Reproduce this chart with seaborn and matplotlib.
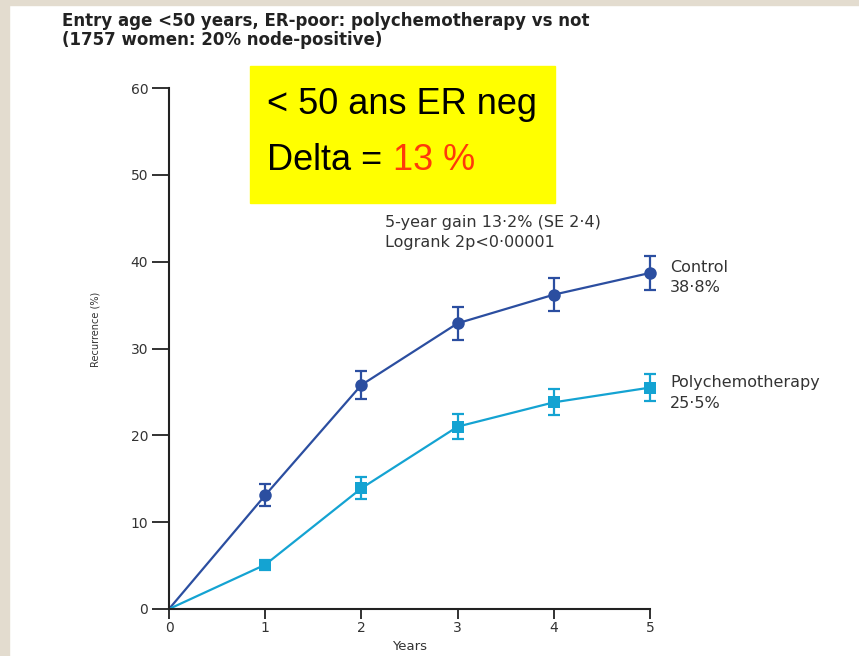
import numpy as np
import pandas as pd
import matplotlib
matplotlib.use("Agg")
import matplotlib.pyplot as plt
import seaborn as sns
from matplotlib.patches import Rectangle

# ---- data ----
years = [0, 1, 2, 3, 4, 5]
control = [0, 13.1, 25.8, 32.9, 36.2, 38.7]
control_err = [1.25, 1.6, 1.9, 1.9, 2.0]
poly = [0, 5.1, 13.9, 21.0, 23.8, 25.5]
poly_err = [0.6, 1.25, 1.45, 1.5, 1.55]
yticks = [0, 10, 20, 30, 40, 50, 60]
xticks = [0, 1, 2, 3, 4, 5]

c_ctrl = "#2b4ea0"
c_poly = "#14a3d2"

sns.set_theme(style="white")
plt.rcParams['font.family'] = ['DejaVu Sans']

W, H = 859, 656
fig = plt.figure(figsize=(W / 100, H / 100), dpi=100)
fig.patch.set_facecolor("white")

def fx(x):
    return x / W

def fy(y):
    return 1 - y / H

# beige frame strips
fig.patches.append(Rectangle((0, 0), fx(9), 1, transform=fig.transFigure,
                             color="#e3dccf", zorder=0))
fig.patches.append(Rectangle((0, fy(5)), 1, fy(0) - fy(5), transform=fig.transFigure,
                             color="#e3dccf", zorder=0))

ax = fig.add_axes([fx(169), fy(609), fx(650) - fx(169), fy(88) - fy(609)])
ax.set_facecolor("none")

df_c = pd.DataFrame({"Years": years, "Recurrence": control})
df_p = pd.DataFrame({"Years": years, "Recurrence": poly})

sns.lineplot(data=df_c, x="Years", y="Recurrence", ax=ax, color=c_ctrl, lw=1.6,
             marker="o", markersize=9, markevery=[1, 2, 3, 4, 5], clip_on=False,
             markeredgewidth=0)
sns.lineplot(data=df_p, x="Years", y="Recurrence", ax=ax, color=c_poly, lw=1.6,
             marker="s", markersize=8.5, markevery=[1, 2, 3, 4, 5], clip_on=False,
             markeredgewidth=0)
ax.errorbar(years[1:], control[1:], yerr=control_err, fmt="none", ecolor=c_ctrl,
            elinewidth=1.6, capsize=4, capthick=1.6, clip_on=False)
ax.errorbar(years[1:], poly[1:], yerr=poly_err, fmt="none", ecolor=c_poly,
            elinewidth=1.6, capsize=4, capthick=1.6, clip_on=False)

ax.set_xlim(0, 5)
ax.set_ylim(0, 60)
ax.set_xticks(xticks)
ax.set_yticks(yticks)
ax.set_xticklabels([str(t) for t in xticks], fontsize=10, color="#333333")
ax.set_yticklabels([str(t) for t in yticks], fontsize=10, color="#333333")
ax.tick_params(axis="y", direction="out", length=12, width=1.3, color="#222222", pad=3,
               left=True)
ax.tick_params(axis="x", direction="out", length=7, width=1.3, color="#222222", pad=2,
               bottom=True)
for s in ["top", "right"]:
    ax.spines[s].set_visible(False)
for s in ["left", "bottom"]:
    ax.spines[s].set_color("#222222")
    ax.spines[s].set_linewidth(1.5)
ax.set_xlabel("")
ax.set_ylabel("")

fig.text(fx(410), fy(647), "Years", ha="center", va="center", fontsize=9.5,
         color="#333333")
fig.text(fx(95), fy(329), "Recurrence (%)", ha="center", va="center", fontsize=7,
         rotation=90, color="#333333")

# title
fig.text(fx(62), fy(21), "Entry age <50 years, ER-poor: polychemotherapy vs not",
         ha="left", va="center", fontsize=12, fontweight="bold", color="#222222")
fig.text(fx(62), fy(40), "(1757 women: 20% node-positive)",
         ha="left", va="center", fontsize=12, fontweight="bold", color="#222222")

# yellow box
fig.patches.append(Rectangle((fx(250), fy(203)), fx(555) - fx(250), fy(66) - fy(203),
                             transform=fig.transFigure, color="#ffff00", zorder=1))
fig.text(fx(267), fy(104), "< 50 ans ER neg", ha="left", va="center",
         fontsize=26, family="Liberation Sans", color="black", zorder=2)
fig.text(fx(267), fy(161), "Delta =", ha="left", va="center",
         fontsize=26, family="Liberation Sans", color="black", zorder=2)
fig.text(fx(393), fy(161), "13 %", ha="left", va="center",
         fontsize=26, family="Liberation Sans", color="#ff3a0a", zorder=2)

# annotations
fs = 11.5
fig.text(fx(385), fy(223), "5-year gain 13·2% (SE 2·4)", ha="left", va="center",
         fontsize=fs, color="#333333")
fig.text(fx(385), fy(242), "Logrank 2p<0·00001", ha="left", va="center",
         fontsize=fs, color="#333333")
fig.text(fx(670), fy(267), "Control", ha="left", va="center", fontsize=fs,
         color="#333333")
fig.text(fx(670), fy(287), "38·8%", ha="left", va="center", fontsize=fs,
         color="#333333")
fig.text(fx(670), fy(383), "Polychemotherapy", ha="left", va="center", fontsize=fs,
         color="#333333")
fig.text(fx(670), fy(403), "25·5%", ha="left", va="center", fontsize=fs,
         color="#333333")

fig.savefig("out.png", dpi=100)
